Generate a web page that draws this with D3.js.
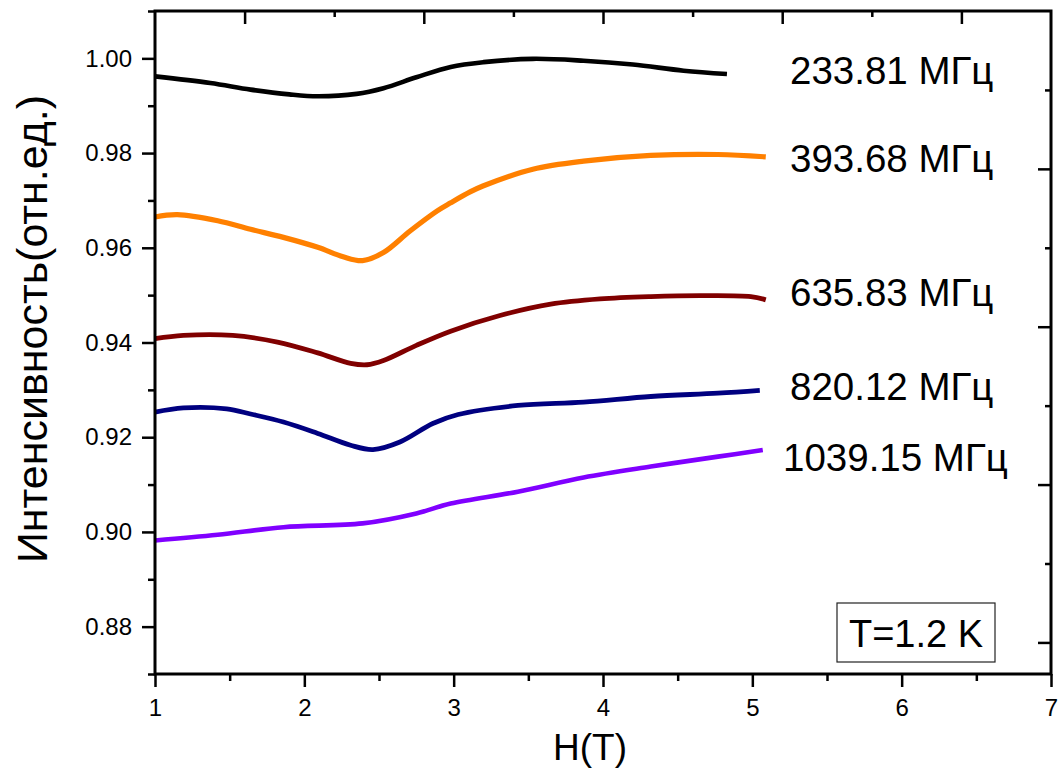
<!DOCTYPE html>
<html>
<head>
<meta charset="utf-8">
<script src="https://cdn.jsdelivr.net/npm/d3@7"></script>
<style>
  html, body { margin: 0; padding: 0; background: #fff; }
  svg { display: block; font-family: "Liberation Sans", Arial, sans-serif; }
</style>
</head>
<body>
<svg id="chart" width="1061" height="776"></svg>
<script>
// Magnetic field, T (x) and normalised intensity (y) for each frequency
const h233 = [1.00, 1.37, 1.64, 1.90, 2.09, 2.35, 2.53, 2.75, 2.98, 3.20, 3.53, 3.87, 4.20, 4.54, 4.83];
const v233 = [0.9962, 0.9948, 0.9934, 0.9924, 0.9920, 0.9925, 0.9937, 0.9960, 0.9982, 0.9992, 0.9999, 0.9995, 0.9987, 0.9974, 0.9967];

const h393 = [1.00, 1.15, 1.42, 1.64, 1.86, 2.09, 2.26, 2.39, 2.53, 2.71, 2.89, 2.98, 3.11, 3.20, 3.53, 3.87, 4.32, 4.77, 5.09];
const v393 = [0.9665, 0.9670, 0.9657, 0.9639, 0.9622, 0.9601, 0.9581, 0.9573, 0.9590, 0.9636, 0.9678, 0.9695, 0.9718, 0.9731, 0.9766, 0.9783, 0.9795, 0.9797, 0.9792];

const h635 = [1.00, 1.19, 1.52, 1.82, 2.09, 2.31, 2.42, 2.53, 2.75, 2.98, 3.31, 3.65, 3.98, 4.32, 4.65, 4.99, 5.09];
const v635 = [0.9408, 0.9415, 0.9415, 0.9401, 0.9378, 0.9356, 0.9353, 0.9362, 0.9394, 0.9424, 0.9457, 0.9481, 0.9492, 0.9497, 0.9499, 0.9497, 0.9490];

const h820 = [1.00, 1.19, 1.48, 1.64, 1.86, 2.09, 2.31, 2.46, 2.64, 2.86, 3.03, 3.43, 3.87, 4.32, 4.77, 5.05];
const v820 = [0.9253, 0.9262, 0.9260, 0.9249, 0.9232, 0.9208, 0.9183, 0.9174, 0.9190, 0.9229, 0.9248, 0.9267, 0.9274, 0.9286, 0.9293, 0.9299];

const h1039 = [1.00, 1.42, 1.86, 2.39, 2.75, 2.98, 3.43, 3.87, 4.32, 4.77, 5.07];
const v1039 = [0.8982, 0.8994, 0.9010, 0.9018, 0.9039, 0.9060, 0.9085, 0.9115, 0.9138, 0.9159, 0.9173];

const seriesLabels = ["233.81 МГц", "393.68 МГц", "635.83 МГц", "820.12 МГц", "1039.15 МГц"];
const seriesColors = ["#000000", "#ff8000", "#800000", "#000080", "#8000ff"];

const xTicks = [1, 2, 3, 4, 5, 6, 7];
const yTicks = [0.88, 0.90, 0.92, 0.94, 0.96, 0.98, 1.00];

const xTitle = "H(T)";
const yTitle = "Интенсивность(отн.ед.)";
const tempNote = "T=1.2 K";

// ---- layout ----
const L = 155, R = 1051, T = 11, B = 674;
const svg = d3.select("#chart");

const x = d3.scaleLinear().domain([1, 7]).range([L, R]);
const y = d3.scaleLinear().domain([0.87, 1.01]).range([B, T]);
// mirror axes on top / right carry their own tick spacing
const xTop = d3.scaleLinear().domain([-0.5, 4.5]).range([L, R]);
const yRight = d3.scaleLinear().domain([-0.2, 4.0]).range([B, T]);

const curves = [
  [h233, v233], [h393, v393], [h635, v635], [h820, v820], [h1039, v1039]
];
const widths = [4.6, 5.2, 4.8, 4.8, 4.6];

const line = d3.line()
  .x(d => x(d[0]))
  .y(d => y(d[1]))
  .curve(d3.curveCatmullRom.alpha(0.5));

curves.forEach(([hs, vs], i) => {
  svg.append("path")
    .datum(hs.map((h, k) => [h, vs[k]]))
    .attr("d", line)
    .attr("fill", "none")
    .attr("stroke", seriesColors[i])
    .attr("stroke-width", widths[i])
    .attr("stroke-linejoin", "round")
    .attr("stroke-linecap", "butt");
});

// ---- axes ----
function styleAxis(g) {
  g.select(".domain").remove();
  g.selectAll(".tick line").attr("stroke", "#000").attr("stroke-width", 2.5);
  g.selectAll(".tick text").attr("fill", "#000");
}

const xMinor = d3.range(1.5, 7, 1);
const yMinor = [0.87, 0.89, 0.91, 0.93, 0.95, 0.97, 0.99, 1.01];

// bottom
svg.append("g").attr("transform", `translate(0,${B})`)
  .call(d3.axisBottom(x).tickValues(xTicks).tickFormat(d3.format("d")).tickSize(13).tickPadding(12))
  .call(styleAxis)
  .call(g => g.selectAll(".tick text").attr("font-size", 24).attr("font-family", "Liberation Sans, Arial, sans-serif"));
svg.append("g").attr("transform", `translate(0,${B})`)
  .call(d3.axisBottom(x).tickValues(xMinor).tickFormat("").tickSize(7))
  .call(styleAxis);

// left
svg.append("g").attr("transform", `translate(${L},0)`)
  .call(d3.axisLeft(y).tickValues(yTicks).tickFormat(d3.format(".2f")).tickSize(13).tickPadding(10))
  .call(styleAxis)
  .call(g => g.selectAll(".tick text").attr("font-size", 24).attr("font-family", "Liberation Sans, Arial, sans-serif"));
svg.append("g").attr("transform", `translate(${L},0)`)
  .call(d3.axisLeft(y).tickValues(yMinor).tickFormat("").tickSize(7))
  .call(styleAxis);

// top (ticks pointing inward)
svg.append("g").attr("transform", `translate(0,${T})`)
  .call(d3.axisBottom(xTop).tickValues([0, 1, 2, 3, 4]).tickFormat("").tickSize(13))
  .call(styleAxis);
svg.append("g").attr("transform", `translate(0,${T})`)
  .call(d3.axisBottom(xTop).tickValues([0.5, 1.5, 2.5, 3.5]).tickFormat("").tickSize(6))
  .call(styleAxis);

// right (ticks pointing inward)
svg.append("g").attr("transform", `translate(${R},0)`)
  .call(d3.axisLeft(yRight).tickValues([0, 1, 2, 3]).tickFormat("").tickSize(13))
  .call(styleAxis);
svg.append("g").attr("transform", `translate(${R},0)`)
  .call(d3.axisLeft(yRight).tickValues([0.5, 1.5, 2.5, 3.5]).tickFormat("").tickSize(6))
  .call(styleAxis);

// frame
svg.append("rect")
  .attr("x", L).attr("y", T)
  .attr("width", R - L).attr("height", B - T)
  .attr("fill", "none").attr("stroke", "#000").attr("stroke-width", 3);

// ---- titles ----
svg.append("text")
  .attr("x", (L + R) / 2 - 13).attr("y", 760)
  .attr("text-anchor", "middle")
  .attr("font-size", 37)
  .text(xTitle);

svg.append("text")
  .attr("transform", `translate(47,${(92 + 566) / 2}) rotate(-90)`)
  .attr("text-anchor", "middle")
  .attr("font-size", 43)
  .text(yTitle);

// ---- series labels ----
const labelPos = [[790, 84], [790, 172], [790, 306], [790, 400], [783, 471]];
seriesLabels.forEach((t, i) => {
  svg.append("text")
    .attr("x", labelPos[i][0]).attr("y", labelPos[i][1])
    .attr("font-size", 38.5)
    .attr("fill", "#000")
    .text(t);
});

// ---- temperature note ----
svg.append("rect")
  .attr("x", 837).attr("y", 603)
  .attr("width", 158).attr("height", 59)
  .attr("fill", "#fff").attr("stroke", "#222").attr("stroke-width", 1.2);
svg.append("text")
  .attr("x", 916).attr("y", 647)
  .attr("text-anchor", "middle")
  .attr("font-size", 38)
  .text(tempNote);
</script>
</body>
</html>
